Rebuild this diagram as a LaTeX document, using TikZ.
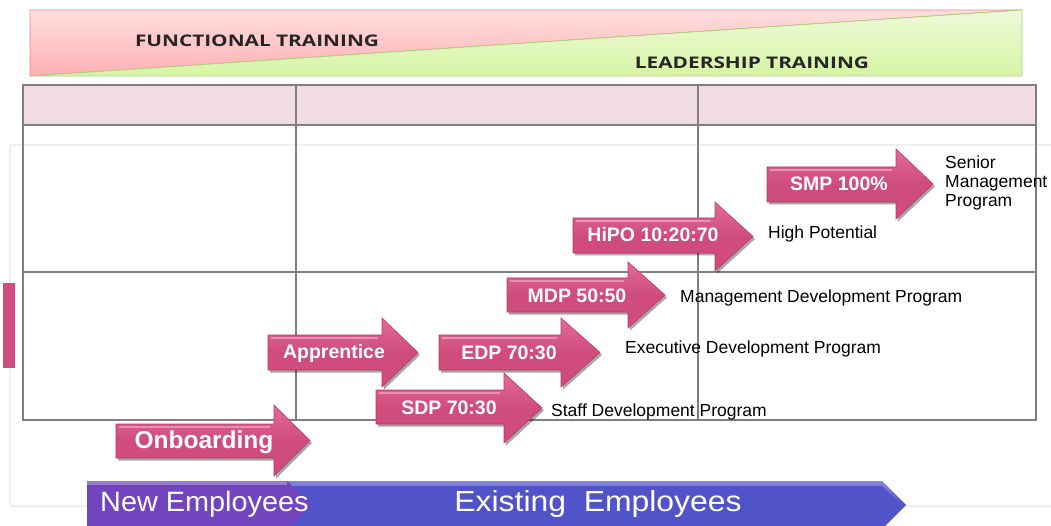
\documentclass[tikz,border=0pt]{standalone}
\usepackage{fontspec}
\setmainfont{Liberation Sans}
\newfontfamily\bannerfont{Open Sans}
\begin{document}
\definecolor{pinkmain}{HTML}{CF4C7C}
\definecolor{pinklight}{HTML}{E26C97}
\definecolor{pinkdark}{HTML}{B8386A}
\definecolor{headfill}{HTML}{F2DCE3}
\definecolor{gridline}{HTML}{7F7F7F}
\definecolor{framegrey}{HTML}{ECECF1}
\definecolor{redtop}{HTML}{FFDEDE}
\definecolor{redbot}{HTML}{FFB0B3}
\definecolor{rededge}{HTML}{E88C8F}
\definecolor{greentop}{HTML}{EEFAD9}
\definecolor{greenbot}{HTML}{D6F4A4}
\definecolor{greenedge}{HTML}{A9D07A}
\definecolor{newpurple}{HTML}{7244C0}
\definecolor{oldblue}{HTML}{5153C9}
\newcommand\progarrow[7]{%
  % body left, body top, body bottom, head base, head top, head bottom, tip x
  \fill[black,opacity=.35,shift={(2,2.5)}]
    (#1,#2) -- (#4,#2) -- (#4,#5) -- (#7,{(#5+#6)/2}) -- (#4,#6) -- (#4,#3) -- (#1,#3) -- cycle;
  \shade[top color=pinklight,bottom color=pinkmain,middle color=pinkmain,draw=pinkdark,line width=.6]
    (#1,#2) -- (#4,#2) -- (#4,#5) -- (#7,{(#5+#6)/2}) -- (#4,#6) -- (#4,#3) -- (#1,#3) -- cycle;
  \draw[white,opacity=.35,line width=1.2] (#1+3,#2+3) -- (#4-4,#2+3);
}
\begin{tikzpicture}[x=1pt,y=-1pt,
  arrowtext/.style={text=white,font=\bfseries\fontsize{19.5}{22}\selectfont,inner sep=0pt},
  progname/.style={anchor=west,text=black,font=\fontsize{17.5}{20}\selectfont,inner sep=0pt,align=left},
  grid/.style={draw=gridline,line width=1.2},
  banner/.style={font=\bannerfont\bfseries\fontsize{16}{18}\selectfont,text=black!85,inner sep=0pt},
  bartext/.style={text=white,inner sep=0pt}]
\useasboundingbox (0,0) rectangle (1051,526);
\fill[white] (0,0) rectangle (1051,526);

% faint outer frame
\draw[framegrey,line width=1.5,rounded corners=3] (10,145) rectangle (1070,506);

% training banner split along its diagonal
\shade[top color=redtop,bottom color=redbot,draw=rededge,line width=.8]
  (30,10) -- (1022,10) -- (30,76) -- cycle;
\shade[top color=greentop,bottom color=greenbot,draw=greenedge,line width=.8]
  (30,76) -- (1022,10) -- (1022,76) -- cycle;
\node[banner] (func) at (257,41) {\scalebox{1.3}[1]{FUNCTIONAL TRAINING}};
\node[banner] (lead) at (752,63) {\scalebox{1.3}[1]{LEADERSHIP TRAINING}};

% grid
\fill[headfill] (23,85) rectangle (1036,125);
\draw[grid] (23,85) rectangle (1036,420);
\draw[grid] (23,125) -- (1036,125);
\draw[grid] (23,272) -- (1036,272);
\draw[grid] (296,85) -- (296,420);
\draw[grid] (698,85) -- (698,420);

% side marker
\fill[pinkmain] (3,283) rectangle (15,368);

% program arrows
\progarrow{116}{424}{458}{274}{405}{476}{310}
\progarrow{268}{335}{370}{382}{318}{387}{418}
\progarrow{376}{390}{424}{504}{373}{443}{542}
\progarrow{439}{335}{370}{561}{318}{387}{600}
\progarrow{507}{278}{312}{628}{262}{328}{665}
\progarrow{573}{218}{253}{715}{202}{271}{753}
\progarrow{767}{167}{202}{896}{149}{219}{933}

\node[arrowtext,font=\bfseries\fontsize{24.5}{26}\selectfont] (onb) at (204,442) {Onboarding};
\node[arrowtext] (app) at (334,353) {Apprentice};
\node[arrowtext] (sdp) at (449,408) {SDP 70:30};
\node[arrowtext] (edp) at (509,353) {EDP 70:30};
\node[arrowtext] (mdp) at (577,296) {MDP 50:50};
\node[arrowtext] (hipo) at (653,235) {HiPO 10:20:70};
\node[arrowtext] (smp) at (839,184) {SMP 100\%};

% program names
\node[progname] (smpl) at (945,183) {Senior\\[-1pt]Management\\[-1pt]Program};
\node[progname] (hipol) at (768,234) {High Potential};
\node[progname] (mdpl) at (680,298) {Management Development Program};
\node[progname] (edpl) at (625,349) {Executive Development Program};
\node[progname] (sdpl) at (551,412) {Staff Development Program};

% employee bands
\shade[top color=oldblue!70!white,bottom color=oldblue,middle color=oldblue]
  (280,481) -- (882,481) -- (906,505) -- (882,529) -- (280,529) -- cycle;
\fill[oldblue] (280,486) -- (882,486) -- (901,505) -- (882,529) -- (280,529) -- cycle;
\fill[newpurple] (87,481) -- (287,481) -- (312,505) -- (287,529) -- (87,529) -- cycle;
\fill[newpurple!70!white] (87,481) rectangle (287,485);
\node[bartext,anchor=west,font=\fontsize{28}{30}\selectfont] (newemp) at (100,504) {\scalebox{1.03}[1]{New Employees}};
\node[bartext,font=\fontsize{29}{31}\selectfont] (existemp) at (598,504) {\scalebox{1.1}[1]{Existing\ \ Employees}};
\end{tikzpicture}
\end{document}
